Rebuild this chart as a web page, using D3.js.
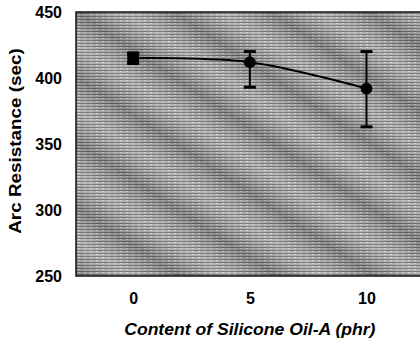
<!DOCTYPE html>
<html>
<head>
<meta charset="utf-8">
<script src="https://cdn.jsdelivr.net/npm/d3@7"></script>
<style>
  body { margin: 0; background: #fff; }
  svg { display: block; }
</style>
</head>
<body>
<div id="chart"></div>
<script>
// data
const oilContent = [0, 5, 10];
const arcResistance = [415, 412, 392];
const errUpper = [419, 420, 420];
const errLower = [411, 393, 363];
const markerShapes = ["square", "circle", "circle"];
const xTicks = [0, 5, 10];
const yTicks = [250, 300, 350, 400, 450];

const margin = {top: 12, right: -6, bottom: 69, left: 76},
  width = 420 - margin.left - margin.right,
  height = 345 - margin.top - margin.bottom;

const font = "'Liberation Sans', Arial, sans-serif";

const svg = d3.select("#chart").append("svg")
  .attr("width", 420)
  .attr("height", 345);

const defs = svg.append("defs");
const pat = defs.append("pattern")
  .attr("id", "scan")
  .attr("patternUnits", "userSpaceOnUse")
  .attr("width", 6).attr("height", 3);
pat.append("rect").attr("width", 6).attr("height", 3).attr("fill", "#acacac");
pat.append("rect").attr("y", 1).attr("width", 6).attr("height", 1).attr("fill", "#707070");
pat.append("rect").attr("x", 2).attr("y", 2).attr("width", 2).attr("height", 1).attr("fill", "#d4d4d4");

const bands = defs.append("linearGradient")
  .attr("id", "bands")
  .attr("gradientUnits", "userSpaceOnUse")
  .attr("x1", 0).attr("y1", 0).attr("x2", 30).attr("y2", -45)
  .attr("spreadMethod", "repeat");
bands.append("stop").attr("offset", "0").attr("stop-color", "#000").attr("stop-opacity", 0.18);
bands.append("stop").attr("offset", "0.5").attr("stop-color", "#fff").attr("stop-opacity", 0.12);
bands.append("stop").attr("offset", "1").attr("stop-color", "#000").attr("stop-opacity", 0.18);

const g = svg.append("g")
  .attr("transform", "translate(" + margin.left + "," + margin.top + ")");

const x = d3.scaleLinear().domain([-2.45, 12.55]).range([0, width]);
const y = d3.scaleLinear().domain([250, 450]).range([height, 0]);

// textured plot area like the scan
g.append("rect").attr("width", width).attr("height", height).attr("fill", "url(#scan)");
g.append("rect").attr("width", width).attr("height", height).attr("fill", "url(#bands)");
g.append("rect").attr("width", width).attr("height", height)
  .attr("fill", "none").attr("stroke", "#111").attr("stroke-width", 1.5);

// axes (labels only)
const yAxis = g.append("g")
  .call(d3.axisLeft(y).tickValues(yTicks).tickSize(0).tickPadding(14));
const xAxis = g.append("g")
  .attr("transform", "translate(0," + height + ")")
  .call(d3.axisBottom(x).tickValues(xTicks).tickSize(0).tickPadding(17));
[yAxis, xAxis].forEach(function (a) {
  a.select(".domain").remove();
  a.selectAll("text")
    .attr("fill", "#000")
    .style("font-family", font)
    .style("font-size", "16px")
    .style("font-weight", "bold");
});

const items = oilContent.map(function (d, i) {
  return {x: d, y: arcResistance[i], hi: errUpper[i], lo: errLower[i], shape: markerShapes[i]};
});

// smoothed line
const valueline = d3.line()
  .x(function (d) { return x(d.x); })
  .y(function (d) { return y(d.y); })
  .curve(d3.curveCatmullRom.alpha(0.5));

g.append("path")
  .datum(items)
  .attr("fill", "none")
  .attr("stroke", "#000")
  .attr("stroke-width", 2)
  .attr("d", valueline);

// error bars
const eb = g.selectAll(".err").data(items).enter().append("g").attr("class", "err");
eb.append("line")
  .attr("x1", function (d) { return x(d.x); })
  .attr("x2", function (d) { return x(d.x); })
  .attr("y1", function (d) { return y(d.hi); })
  .attr("y2", function (d) { return y(d.lo); })
  .attr("stroke", "#000").attr("stroke-width", 2);
eb.append("line")
  .attr("x1", function (d) { return x(d.x) - 6; })
  .attr("x2", function (d) { return x(d.x) + 6; })
  .attr("y1", function (d) { return y(d.hi); })
  .attr("y2", function (d) { return y(d.hi); })
  .attr("stroke", "#000").attr("stroke-width", 3);
eb.append("line")
  .attr("x1", function (d) { return x(d.x) - 6; })
  .attr("x2", function (d) { return x(d.x) + 6; })
  .attr("y1", function (d) { return y(d.lo); })
  .attr("y2", function (d) { return y(d.lo); })
  .attr("stroke", "#000").attr("stroke-width", 3);

// markers
g.selectAll(".pt").data(items).enter().append("path")
  .attr("class", "pt")
  .attr("transform", function (d) { return "translate(" + x(d.x) + "," + y(d.y) + ")"; })
  .attr("d", function (d) {
    return d3.symbol()
      .type(d.shape === "square" ? d3.symbolSquare : d3.symbolCircle)
      .size(d.shape === "square" ? 140 : 110)();
  })
  .attr("fill", "#000");

// axis titles (scan is slightly stretched along the text)
svg.append("text")
  .attr("transform", "translate(" + (margin.left + x(5)) + ",335) scale(1.1,1)")
  .attr("text-anchor", "middle")
  .style("font-family", font)
  .style("font-size", "16px")
  .style("font-weight", "bold")
  .style("font-style", "italic")
  .text("Content of Silicone Oil-A (phr)");

svg.append("text")
  .attr("transform", "translate(21,141) rotate(-90) scale(1.18,1)")
  .attr("text-anchor", "middle")
  .style("font-family", font)
  .style("font-size", "16px")
  .style("font-weight", "bold")
  .text("Arc Resistance (sec)");
</script>
</body>
</html>
